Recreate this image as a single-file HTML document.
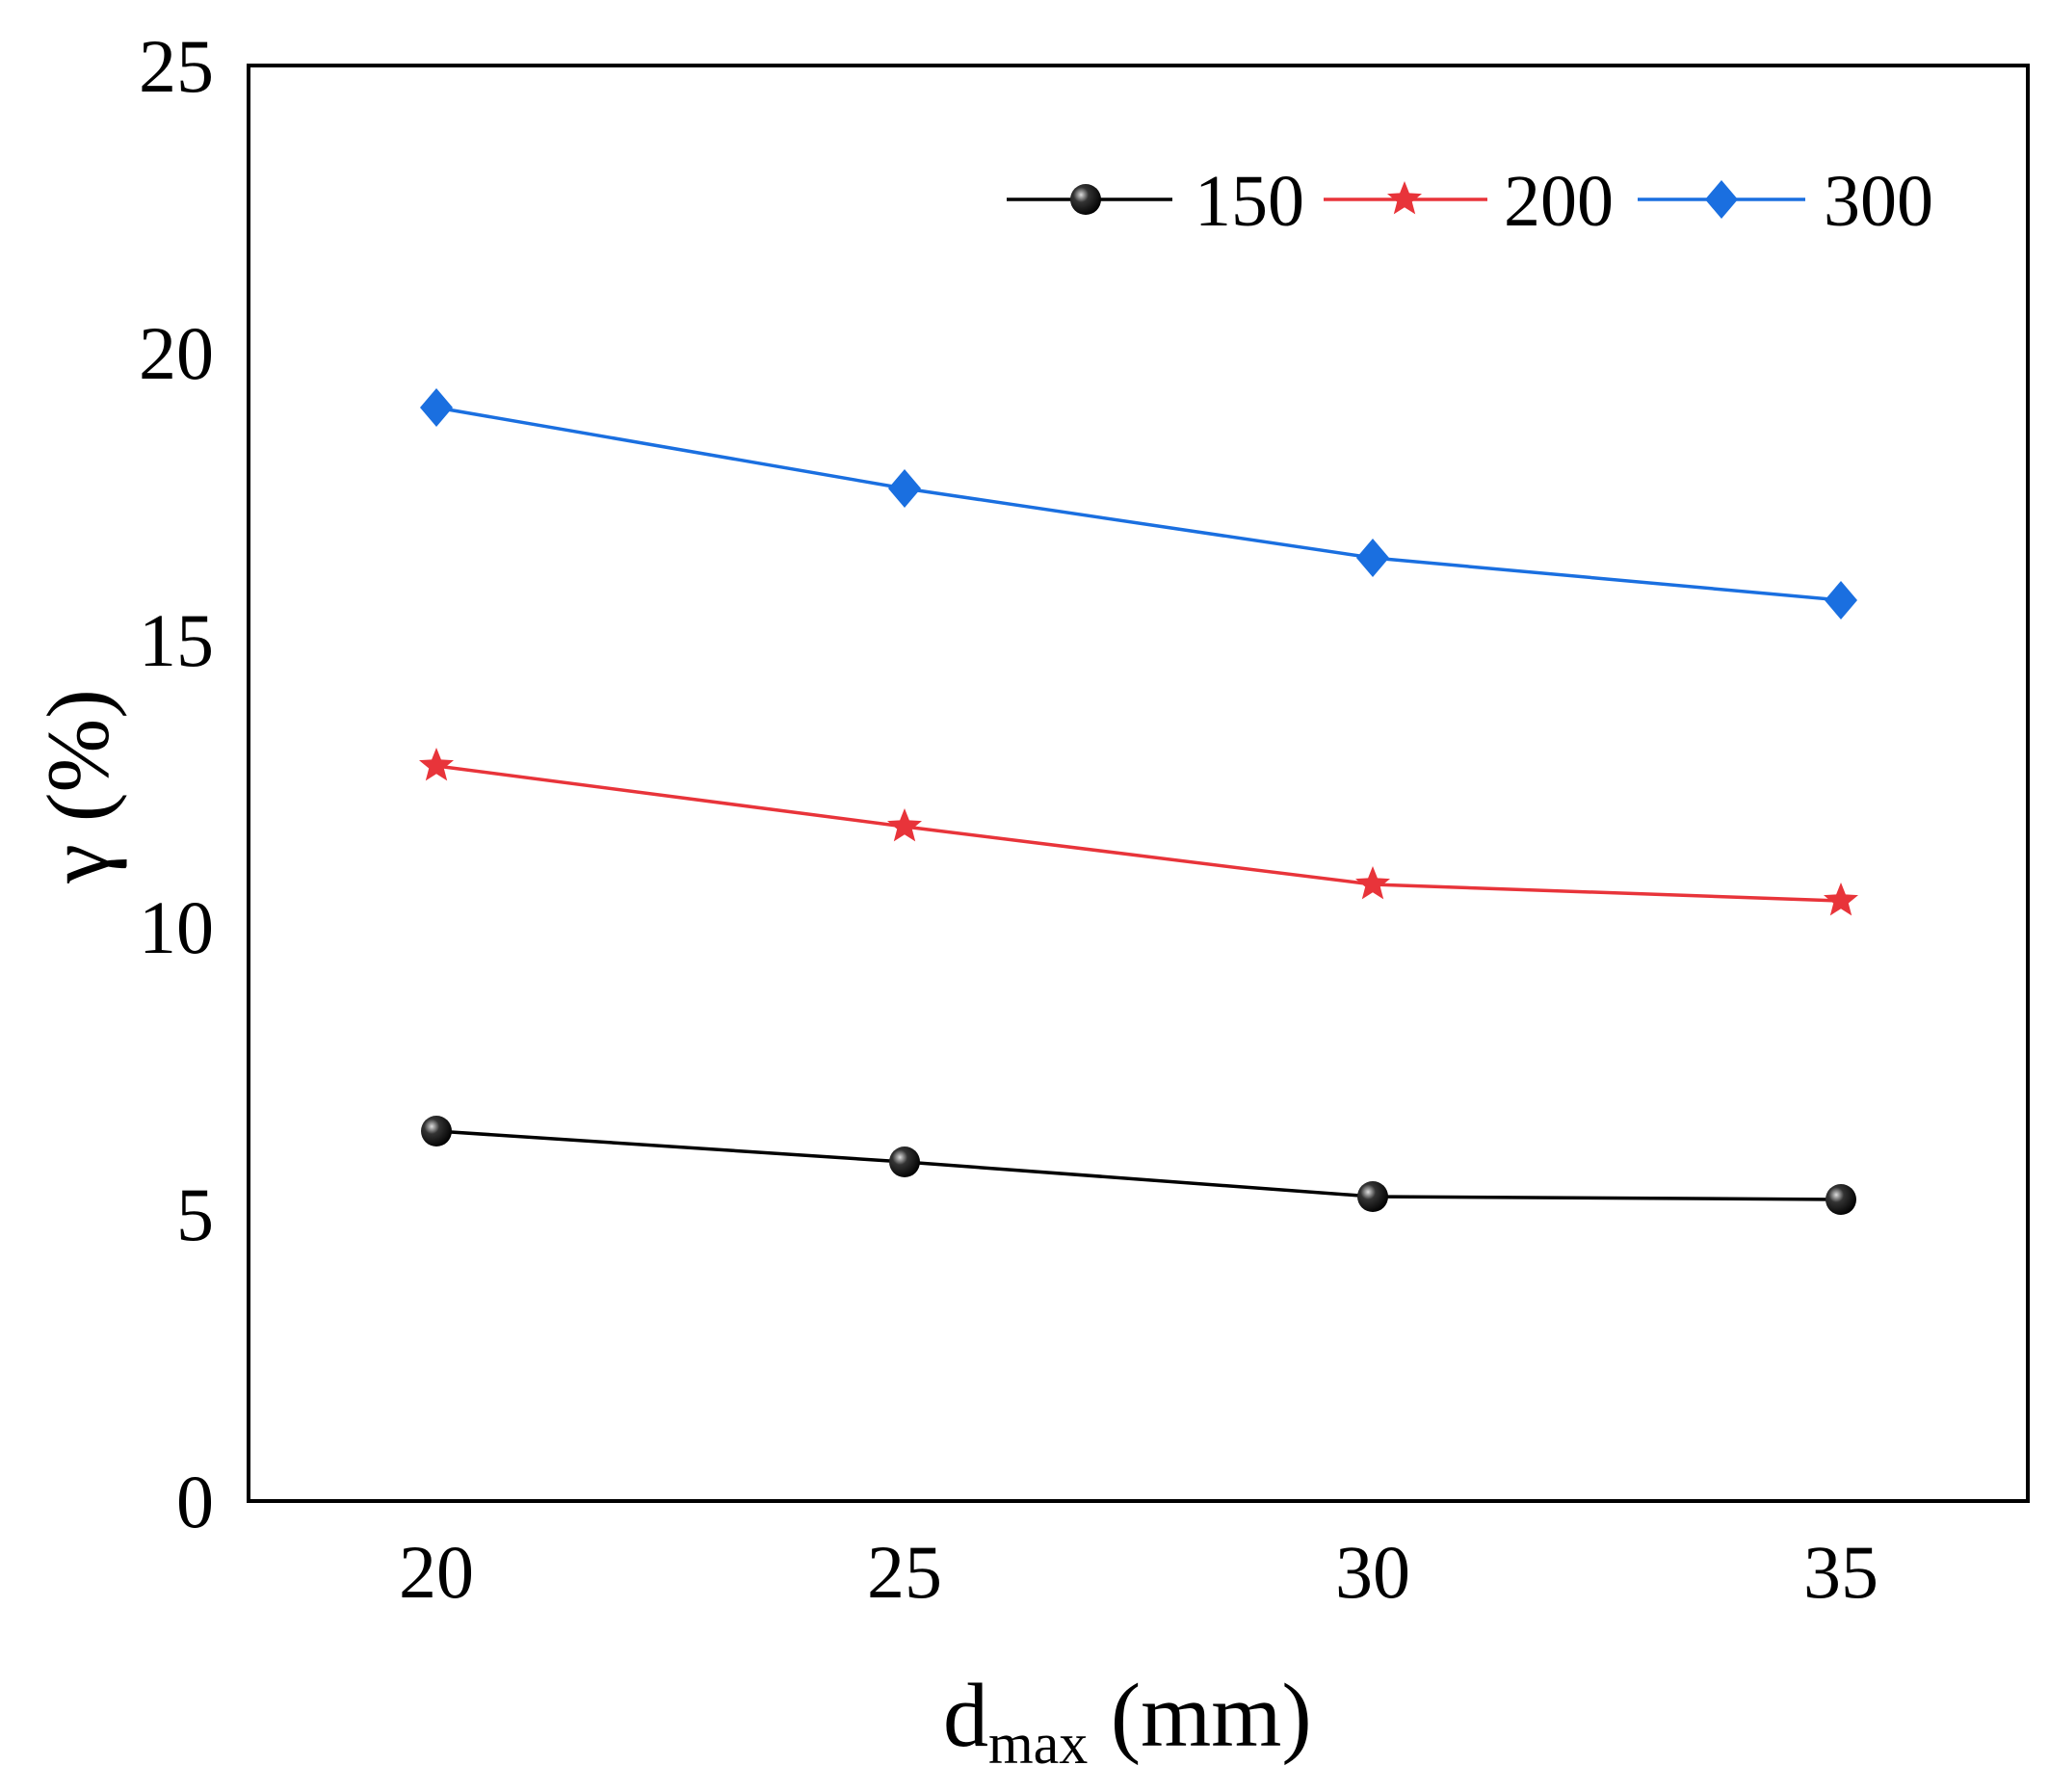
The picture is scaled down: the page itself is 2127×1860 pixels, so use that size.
<!DOCTYPE html>
<html><head><meta charset="utf-8"><style>
html,body{margin:0;padding:0;background:#fff;}
svg{display:block;}
text{font-family:"Liberation Serif",serif;fill:#000;}
</style></head><body>
<svg width="2127" height="1860" viewBox="0 0 2127 1860" xmlns="http://www.w3.org/2000/svg">
<defs>
<radialGradient id="ball" cx="0.35" cy="0.35" r="0.7">
<stop offset="0" stop-color="#ddd"/><stop offset="0.35" stop-color="#333"/><stop offset="1" stop-color="#000"/>
</radialGradient>
<g id="dot"><circle r="16" fill="url(#ball)"/></g>
<g id="star"><polygon fill="#e8343a" points="0,-19 4.9,-6.6 18,-5.9 7.8,2.5 11.2,15.4 0,8.2 -11.2,15.4 -7.8,2.5 -18,-5.9 -4.9,-6.6"/></g>
<g id="dia"><polygon fill="#1a6fe0" points="0,-20 17,0 0,20 -17,0"/></g>
</defs>
<rect x="258" y="68" width="1847" height="1490" fill="none" stroke="#000" stroke-width="4"/>
<g font-size="78" text-anchor="end">
<text x="222" y="1585">0</text>
<text x="222" y="1287">5</text>
<text x="222" y="989">10</text>
<text x="222" y="691">15</text>
<text x="222" y="393">20</text>
<text x="222" y="95">25</text>
</g>
<g font-size="78" text-anchor="middle">
<text x="453" y="1658">20</text>
<text x="939" y="1658">25</text>
<text x="1425" y="1658">30</text>
<text x="1911" y="1658">35</text>
</g>
<text x="979" y="1812" font-size="94">d<tspan font-size="60" dy="18">max</tspan><tspan dy="-18"> (mm)</tspan></text>
<text transform="translate(112,816) rotate(-90)" font-size="92" text-anchor="middle">γ (%)</text>
<polyline fill="none" stroke="#1a6fe0" stroke-width="3.5" points="453,423 939,507 1425,579 1911,623"/>
<polyline fill="none" stroke="#e8343a" stroke-width="3.5" points="453,795 939,858 1425,918 1911,935"/>
<polyline fill="none" stroke="#000" stroke-width="3.5" points="453,1174 939,1206 1425,1242 1911,1245"/>
<use href="#dia" x="453" y="423"/><use href="#dia" x="939" y="507"/><use href="#dia" x="1425" y="579"/><use href="#dia" x="1911" y="623"/>
<use href="#star" x="453" y="795"/><use href="#star" x="939" y="858"/><use href="#star" x="1425" y="918"/><use href="#star" x="1911" y="935"/>
<use href="#dot" x="453" y="1174"/><use href="#dot" x="939" y="1206"/><use href="#dot" x="1425" y="1242"/><use href="#dot" x="1911" y="1245"/>
<line x1="1045" y1="207" x2="1217" y2="207" stroke="#000" stroke-width="3.5"/><use href="#dot" x="1127" y="207"/>
<text x="1240" y="234" font-size="76">150</text>
<line x1="1374" y1="207" x2="1544" y2="207" stroke="#e8343a" stroke-width="3.5"/><use href="#star" x="1458" y="207"/>
<text x="1561" y="234" font-size="76">200</text>
<line x1="1700" y1="207" x2="1874" y2="207" stroke="#1a6fe0" stroke-width="3.5"/><use href="#dia" x="1787" y="207"/>
<text x="1893" y="234" font-size="76">300</text>
</svg>
</body></html>
